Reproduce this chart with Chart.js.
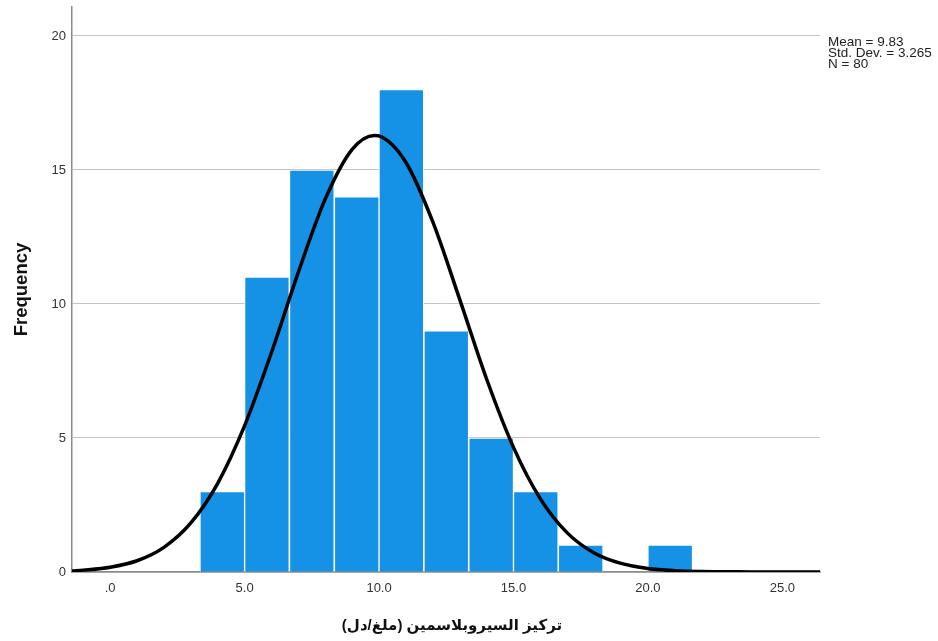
<!DOCTYPE html>
<html>
<head>
<meta charset="utf-8">
<script src="https://cdn.jsdelivr.net/npm/chart.js@4.4.1/dist/chart.umd.min.js"></script>
<style>
  html, body { margin: 0; padding: 0; background: #fff; }
  #wrap { width: 938px; height: 641px; position: relative; }
</style>
</head>
<body>
<div id="wrap"><canvas id="hist"></canvas></div>
<script>
// histogram bins (centres, width 5/3) and counts
const binCenters = [4.17, 5.83, 7.5, 9.17, 10.83, 12.5, 14.17, 15.83, 17.5, 19.17, 20.83];
const frequencies = [3, 11, 15, 14, 18, 9, 5, 3, 1, 0, 1];

// fitted normal curve
const curveX = [-1.42, -1, 0, 1, 2, 3, 4, 5, 6, 7, 8, 9, 9.83, 10, 11, 12, 13, 14, 15, 16, 17, 18, 19, 20, 21, 22, 23, 24, 25, 26.4];
const curveY = [0.04, 0.07, 0.18, 0.42, 0.92, 1.83, 3.31, 5.46, 8.19, 11.19, 13.92, 15.77, 16.29, 16.27, 15.28, 13.06, 10.17, 7.2, 4.65, 2.73, 1.46, 0.71, 0.32, 0.13, 0.05, 0.02, 0.01, 0, 0, 0];

const xTicks = [0, 5, 10, 15, 20, 25];
const xTickLabels = ['.0', '5.0', '10.0', '15.0', '20.0', '25.0'];
const yTicks = [0, 5, 10, 15, 20];

const statsLines = ['Mean = 9.83', 'Std. Dev. = 3.265', 'N = 80'];
const xTitle = 'تركيز السيروبلاسمين (ملغ/دل)';
const yTitle = 'Frequency';

const FONT = 'Arial, "Liberation Sans", "DejaVu Sans", sans-serif';

const extraText = {
  id: 'extraText',
  afterDraw(chart) {
    const ctx = chart.ctx;
    const area = chart.chartArea;
    ctx.save();
    ctx.fillStyle = '#222';
    ctx.font = '13.5px ' + FONT;
    ctx.textAlign = 'left';
    ctx.textBaseline = 'middle';
    statsLines.forEach((s, i) => {
      ctx.fillText(s, area.right + 8, 42 + i * 11.3);
    });
    // arabic axis title, drawn right-to-left
    ctx.direction = 'rtl';
    ctx.font = 'bold 15px ' + FONT;
    ctx.textAlign = 'center';
    ctx.fillStyle = '#111';
    ctx.fillText(xTitle, (area.left + area.right) / 2 + 6, 626);
    ctx.restore();
  }
};

new Chart(document.getElementById('hist').getContext('2d'), {
  data: {
    datasets: [
      {
        type: 'line',
        data: curveX.map((x, i) => ({ x: x, y: curveY[i] })),
        borderColor: '#000',
        borderWidth: 3.5,
        pointRadius: 0,
        fill: false,
        cubicInterpolationMode: 'monotone',
        order: 0
      },
      {
        type: 'bar',
        data: binCenters.map((x, i) => ({ x: x, y: frequencies[i] })),
        backgroundColor: '#1591e5',
        borderColor: '#ffffff',
        borderWidth: 1,
        borderSkipped: 'bottom',
        categoryPercentage: 1,
        barPercentage: 1,
        order: 1
      }
    ]
  },
  options: {
    responsive: true,
    maintainAspectRatio: false,
    animation: false,
    layout: { padding: { top: 7, right: 118, left: 0, bottom: 0 } },
    plugins: {
      legend: { display: false },
      tooltip: { enabled: false }
    },
    scales: {
      x: {
        type: 'linear',
        offset: false,
        min: -1.42,
        max: 26.4,
        afterFit: (scale) => { scale.height = 69; scale.paddingLeft = 0; scale.paddingRight = 0; },
        afterBuildTicks: (scale) => { scale.ticks = xTicks.map(v => ({ value: v })); },
        ticks: {
          padding: 9,
          color: '#333',
          font: { size: 13, family: FONT },
          callback: (v) => xTickLabels[xTicks.indexOf(v)]
        },
        grid: { display: false, drawTicks: false, offset: false },
        border: { display: true, color: '#8a8a8a', width: 1.5 },
        title: { display: false }
      },
      y: {
        min: 0,
        max: 21.08,
        afterFit: (scale) => { scale.width = 72; scale.paddingTop = 0; scale.paddingBottom = 0; },
        afterBuildTicks: (scale) => { scale.ticks = yTicks.map(v => ({ value: v })); },
        ticks: {
          padding: 6,
          color: '#333',
          font: { size: 13, family: FONT }
        },
        grid: { color: '#c4c4c4', lineWidth: 1, drawTicks: false },
        border: { display: true, color: '#8a8a8a', width: 1.5 },
        title: {
          display: true,
          text: yTitle,
          color: '#111',
          font: { size: 18.5, weight: 'bold', family: FONT },
          padding: { top: 11, bottom: 0 }
        }
      }
    }
  },
  plugins: [extraText]
});
</script>
</body>
</html>
